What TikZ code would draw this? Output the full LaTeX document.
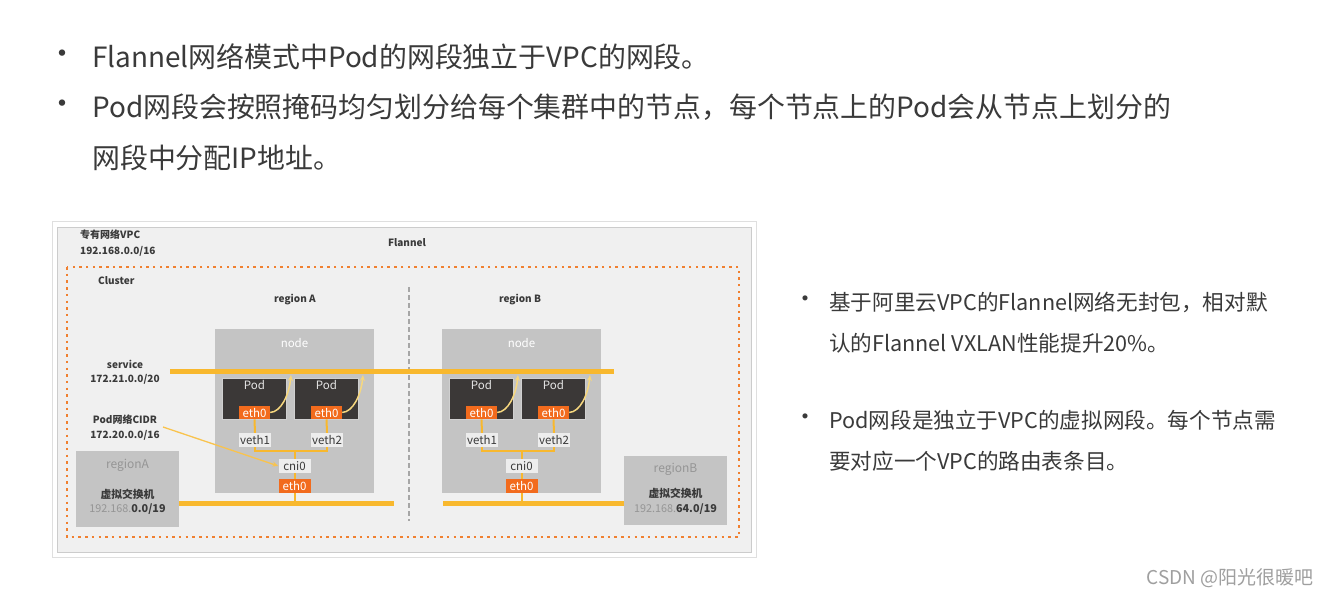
\documentclass[tikz,border=0pt]{standalone}
\usepackage{fontspec}
\setmainfont{Noto Sans CJK SC}
\usetikzlibrary{arrows.meta}
\definecolor{txt}{HTML}{3A3A3A}
\definecolor{panel}{HTML}{F0F0F0}
\definecolor{nodegray}{HTML}{C4C4C4}
\definecolor{poddark}{HTML}{3B3837}
\definecolor{ethor}{HTML}{F26B1D}
\definecolor{dotor}{HTML}{F08030}
\definecolor{busy}{HTML}{F8B82E}
\definecolor{paley}{HTML}{F6D77E}
\definecolor{vethbg}{HTML}{EDEDED}
\definecolor{rgtxt}{HTML}{959595}
\tikzset{
  toptext/.style={anchor=west, inner sep=0pt, text=txt, font=\fontsize{27.9}{32}\selectfont},
  sidetext/.style={anchor=west, inner sep=0pt, text=txt, font=\fontsize{21.6}{25}\selectfont},
  bul/.style={inner sep=0pt, text=txt, font=\fontsize{30}{32}\selectfont},
  sbul/.style={inner sep=0pt, text=txt, font=\fontsize{24}{26}\selectfont},
  lbl/.style={inner sep=0pt, text=txt, font=\fontsize{10}{12}\selectfont\bfseries},
  rlbl/.style={inner sep=0pt, text=txt, font=\fontsize{10.8}{12}\selectfont\bfseries},
  nodebox/.style={fill=nodegray, draw=none, minimum width=159pt, minimum height=164pt, inner sep=0pt},
  podbox/.style={fill=poddark, draw=nodegray!80, minimum width=64pt, minimum height=41pt, inner sep=0pt},
  ethbox/.style={fill=ethor, text=white, minimum width=31pt, minimum height=13.5pt, inner sep=0pt, font=\fontsize{11.5}{12}\selectfont},
  vethbox/.style={fill=vethbg, text=txt, minimum width=32pt, minimum height=14pt, inner sep=0pt, font=\fontsize{11.5}{12}\selectfont},
  rgbox/.style={fill=nodegray, draw=none, minimum width=103pt, inner sep=0pt},
  mainline/.style={busy, line width=5pt},
  busline/.style={busy, line width=2pt},
  curvarr/.style={paley, line width=1.5pt, -{Stealth[length=6pt,width=5pt]}},
}
\begin{document}
\begin{tikzpicture}[x=1pt,y=-1pt]
\useasboundingbox (0,0) rectangle (1333,596);
\fill[white] (0,0) rectangle (1333,596);

% top bullets
\node[bul] (b1) at (62,57) {•};
\node[toptext] (t1) at (92,57) {Flannel网络模式中Pod的网段独立于VPC的网段。};
\node[bul] (b2) at (62,107) {•};
\node[toptext] (t2) at (92,107) {Pod网段会按照掩码均匀划分给每个集群中的节点，每个节点上的Pod会从节点上划分的};
\node[toptext] (t3) at (92,158) {网段中分配IP地址。};

% right bullets
\node[sbul] (b3) at (805,302) {•};
\node[sidetext] (s1) at (829,302) {基于阿里云VPC的Flannel网络无封包，相对默};
\node[sidetext] (s2) at (829,343) {认的Flannel VXLAN性能提升20\%。};
\node[sbul] (b4) at (805,420) {•};
\node[sidetext] (s3) at (829,420) {Pod网段是独立于VPC的虚拟网段。每个节点需};
\node[sidetext] (s4) at (829,461) {要对应一个VPC的路由表条目。};

% watermark
\node[inner sep=0pt, text=gray!75, font=\fontsize{19}{21}\selectfont] (wm) at (1230,578) {CSDN @阳光很暖吧};

% frame
\draw[draw=gray!25, fill=white] (52,221) rectangle (756,557);
\draw[draw=gray!40, fill=panel] (57,227) rectangle (751,552);

\node[lbl, anchor=west] (vpc) at (80,235) {专有网络VPC};
\node[lbl, anchor=west] (vpcip) at (80,251) {192.168.0.0/16};
\node[lbl] (flannel) at (407,243) {Flannel};

\draw[dotor, line width=2.5pt, dash pattern=on 2.5pt off 4.2pt] (67,267) rectangle (739,537);
\node[lbl, anchor=west] (cluster) at (98,281) {Cluster};
\node[lbl] (regA) at (295,300) {region A};
\node[lbl] (regB) at (520,300) {region B};
\coordinate (dvt) at (409,287);
\coordinate (dvb) at (409,521);
\draw[gray!70, line width=1.3pt, dash pattern=on 5pt off 3pt] (dvt) -- (dvb);

% region switches
\node[rgbox, minimum height=76pt] (rgA) at (127.5,489) {};
\node[inner sep=0pt, text=rgtxt, font=\fontsize{12}{13}\selectfont] (rgAt) at (127.5,465) {regionA};
\node[rlbl] (rgAsw) at (127.5,494) {虚拟交换机};
\node[rlbl] (rgAip) at (127.5,509) {{\color{rgtxt}\mdseries 192.168.}0.0/19};

\node[rgbox, minimum height=69pt] (rgB) at (675.5,490) {};
\node[inner sep=0pt, text=rgtxt, font=\fontsize{12}{13}\selectfont] (rgBt) at (675.5,469) {regionB};
\node[rlbl] (rgBsw) at (675.5,493) {虚拟交换机};
\node[rlbl] (rgBip) at (675.5,509) {{\color{rgtxt}\mdseries 192.168.}64.0/19};

% service / CIDR labels
\node[lbl] (svc) at (125,364) {service};
\node[lbl] (svcip) at (125,379) {172.21.0.0/20};
\node[lbl] (cidr) at (125,420) {Pod网络CIDR};
\node[lbl] (cidrip) at (125,435) {172.20.0.0/16};

% node boxes
\foreach \o/\s in {0/A,227/B}{
  \node[nodebox] (n\s) at (294.5+\o,411) {};
  \node[inner sep=0pt, text=white, font=\fontsize{11.5}{12}\selectfont] (nl\s) at (294.5+\o,343) {node};
}

% service line
\coordinate (svS) at (170,371);
\coordinate (svE) at (614,371);
\draw[mainline] (svS) -- (svE);

\foreach \o/\s in {0/A,227/B}{
  \node[podbox] (p\s1) at (254.5+\o,398.5) {};
  \node[podbox] (p\s2) at (326.5+\o,398.5) {};
  \node[inner sep=0pt, text=white!90!black, font=\fontsize{11.5}{12}\selectfont] (pt\s1) at (254.5+\o,385) {Pod};
  \node[inner sep=0pt, text=white!90!black, font=\fontsize{11.5}{12}\selectfont] (pt\s2) at (326.5+\o,385) {Pod};
  \node[ethbox] (e\s1) at (254.5+\o,412.5) {eth0};
  \node[ethbox] (e\s2) at (326.5+\o,412.5) {eth0};
  \node[vethbox] (v\s1) at (255+\o,440) {veth1};
  \node[vethbox] (v\s2) at (327+\o,440) {veth2};
  \node[vethbox] (c\s) at (294.5+\o,466) {cni0};
  \node[ethbox, minimum width=32pt, minimum height=14pt] (eb\s) at (294.5+\o,486) {eth0};
  \coordinate (j\s) at (294.5+\o,451);
  \coordinate (bt\s) at (294.5+\o,503);
  \coordinate (tip\s1) at (291+\o,375);
  \coordinate (tip\s2) at (363+\o,375);
  \draw[busline] (e\s1.south) -- (v\s1.north);
  \draw[busline] (e\s2.south) -- (v\s2.north);
  \draw[busline] (v\s1.south) |- (j\s) -| (v\s2.south);
  \draw[busline] (j\s) -- (c\s.north);
  \draw[busline] (c\s.south) -- (eb\s.north);
  \draw[busline] (eb\s.south) -- (bt\s);
  \draw[curvarr] (e\s1.east) .. controls (281+\o,412) and (289+\o,395) .. (tip\s1);
  \draw[curvarr] (e\s2.east) .. controls (353+\o,412) and (361+\o,395) .. (tip\s2);
}

% bottom lines
\coordinate (bAend) at (394,503);
\coordinate (bBstart) at (443,503);
\draw[mainline] (rgA.east |- btA) -- (bAend);
\draw[mainline] (bBstart) -- (rgB.west |- btB);

% CIDR arrow
\coordinate (cidrS) at (163,427);
\draw[busy!85, line width=1.3pt, -{Stealth[length=6pt,width=5pt]}] (cidrS) -- (cA.west);
\end{tikzpicture}
\end{document}
